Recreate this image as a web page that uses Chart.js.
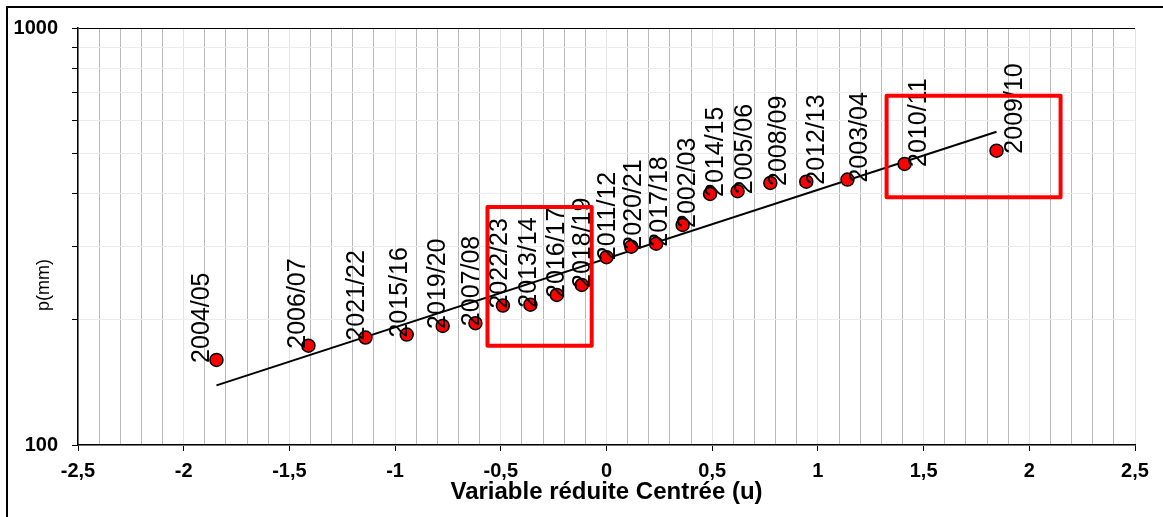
<!DOCTYPE html>
<html>
<head>
<meta charset="utf-8">
<script src="https://cdn.jsdelivr.net/npm/chart.js@4.4.1/dist/chart.umd.min.js"></script>
<style>
    body { margin: 0; background: #fff; }
    #chart-container { width: 1163px; height: 517px; }
</style>
</head>
<body>
<div id="chart-container"><canvas id="myChart" width="1163" height="517"></canvas></div>
<script>
// hydrological seasons, sorted by rank
var seasons = ['2004/05', '2006/07', '2021/22', '2015/16', '2019/20', '2007/08', '2022/23', '2013/14', '2016/17', '2018/19',
    '2011/12', '2020/21', '2017/18', '2002/03', '2014/15', '2005/06', '2008/09', '2012/13', '2003/04', '2010/11', '2009/10'];
// reduced centred variable (u)
var uValues = [-1.845, -1.41, -1.14, -0.945, -0.775, -0.62, -0.49, -0.36, -0.235, -0.117,
    0, 0.117, 0.235, 0.36, 0.49, 0.62, 0.775, 0.945, 1.14, 1.41, 1.845];
// precipitation p (mm)
var rainMm = [160, 173, 181, 184, 193, 196, 216, 217, 229, 242,
    282, 299, 304, 337, 400, 406, 425, 428, 433, 472, 508];
// fitted line end points
var trendU = [-1.845, 1.845];
var trendMm = [139, 564];
// highlighted zones: [uMin, uMax, pMin, pMax]
var zoneA = [-0.563, -0.07, 173, 372];
var zoneB = [1.325, 2.148, 393, 688];

var yTicks = [100, 200, 300, 400, 500, 600, 700, 800, 900, 1000];
var yTickLabels = [100, 1000];

var FONT = '"Liberation Sans", Arial, sans-serif';

function isHalf(v) {
    return Math.abs(v * 2 - Math.round(v * 2)) < 1e-6;
}

var points = [];
for (var i = 0; i < seasons.length; i++) {
    points.push({ x: uValues[i], y: rainMm[i] });
}
var trend = [];
for (var i = 0; i < trendU.length; i++) {
    trend.push({ x: trendU[i], y: trendMm[i] });
}

var extras = {
    id: 'extras',
    beforeDraw: function (chart) {
        var ctx = chart.ctx;
        ctx.save();
        ctx.fillStyle = '#fff';
        ctx.fillRect(0, 0, chart.width, chart.height);
        ctx.restore();
    },
    afterDatasetsDraw: function (chart) {
        var ctx = chart.ctx;
        var xs = chart.scales.x, ys = chart.scales.y;
        // season labels, written upwards next to each point
        ctx.save();
        ctx.fillStyle = '#000';
        ctx.font = '25px ' + FONT;
        ctx.textAlign = 'left';
        ctx.textBaseline = 'middle';
        for (var i = 0; i < seasons.length; i++) {
            var px = xs.getPixelForValue(uValues[i]);
            var py = ys.getPixelForValue(rainMm[i]);
            ctx.save();
            ctx.translate(px + 2 + 9 * uValues[i], py + 3);
            ctx.rotate(-Math.PI / 2);
            ctx.fillText(seasons[i], 0, 0);
            ctx.restore();
        }
        ctx.restore();

        // red boxes
        ctx.save();
        ctx.strokeStyle = '#ff0000';
        ctx.lineWidth = 4;
        ctx.lineJoin = 'round';
        [zoneA, zoneB].forEach(function (z) {
            var x1 = xs.getPixelForValue(z[0]), x2 = xs.getPixelForValue(z[1]);
            var y1 = ys.getPixelForValue(z[3]), y2 = ys.getPixelForValue(z[2]);
            ctx.strokeRect(x1, y1, x2 - x1, y2 - y1);
        });
        ctx.restore();
    },
    afterDraw: function (chart) {
        var ctx = chart.ctx;
        ctx.save();
        // y title
        ctx.fillStyle = '#000';
        ctx.font = '18px ' + FONT;
        ctx.textAlign = 'center';
        ctx.textBaseline = 'middle';
        ctx.translate(44, 285);
        ctx.rotate(-Math.PI / 2);
        ctx.fillText('p(mm)', 0, 0);
        ctx.restore();

        // outer frame (left + top)
        ctx.save();
        ctx.strokeStyle = '#000';
        ctx.lineWidth = 2;
        ctx.beginPath();
        ctx.moveTo(7, chart.height);
        ctx.lineTo(7, 7);
        ctx.lineTo(chart.width, 7);
        ctx.stroke();
        ctx.restore();
    }
};

var ctx = document.getElementById('myChart');
var myChart = new Chart(ctx, {
    type: 'scatter',
    plugins: [extras],
    data: {
        datasets: [{
            label: 'p(mm)',
            data: points,
            backgroundColor: '#ff0000',
            borderColor: '#000',
            borderWidth: 1.5,
            pointRadius: 6.5,
            pointHoverRadius: 6.5
        }, {
            type: 'line',
            label: 'ajustement',
            data: trend,
            borderColor: '#000',
            borderWidth: 2,
            pointRadius: 0,
            fill: false
        }]
    },
    options: {
        responsive: false,
        animation: false,
        events: [],
        layout: { padding: { left: 0, right: 28, top: 28, bottom: 0 } },
        plugins: {
            legend: { display: false },
            tooltip: { enabled: false }
        },
        scales: {
            x: {
                type: 'linear',
                min: -2.5,
                max: 2.5,
                afterFit: function (scale) { scale.height = 72; },
                ticks: {
                    stepSize: 0.1,
                    autoSkip: false,
                    maxRotation: 0,
                    padding: 8,
                    color: '#000',
                    font: { family: FONT, size: 20, weight: 'bold' },
                    callback: function (value) {
                        var v = Math.round(value * 10) / 10;
                        return isHalf(v) ? String(v).replace('.', ',') : '';
                    }
                },
                grid: {
                    lineWidth: 1,
                    tickLength: 6,
                    color: function (c) {
                        return c.tick && isHalf(c.tick.value) ? '#e3e3e3' : '#b9b9b9';
                    },
                    tickColor: function (c) {
                        return c.tick && isHalf(c.tick.value) ? '#000' : 'rgba(0,0,0,0)';
                    }
                },
                border: { color: '#000', width: 1.5 },
                title: {
                    display: true,
                    text: 'Variable réduite Centrée (u)',
                    color: '#000',
                    font: { family: FONT, size: 24, weight: 'bold' },
                    padding: { top: 0, bottom: 10 }
                }
            },
            y: {
                type: 'logarithmic',
                min: 100,
                max: 1000,
                afterFit: function (scale) { scale.width = 78; },
                afterBuildTicks: function (scale) {
                    scale.ticks = yTicks.map(function (v) { return { value: v }; });
                },
                ticks: {
                    autoSkip: false,
                    padding: 14,
                    color: '#000',
                    font: { family: FONT, size: 20, weight: 'bold' },
                    callback: function (value) {
                        return yTickLabels.indexOf(value) >= 0 ? String(value) : '';
                    }
                },
                grid: {
                    lineWidth: 1,
                    tickLength: 6,
                    color: function (c) {
                        return c.tick && c.tick.value === 1000 ? '#000' : '#ececec';
                    },
                    tickColor: '#000'
                },
                border: { color: '#000', width: 1.5 }
            }
        }
    }
});
</script>
</body>
</html>
